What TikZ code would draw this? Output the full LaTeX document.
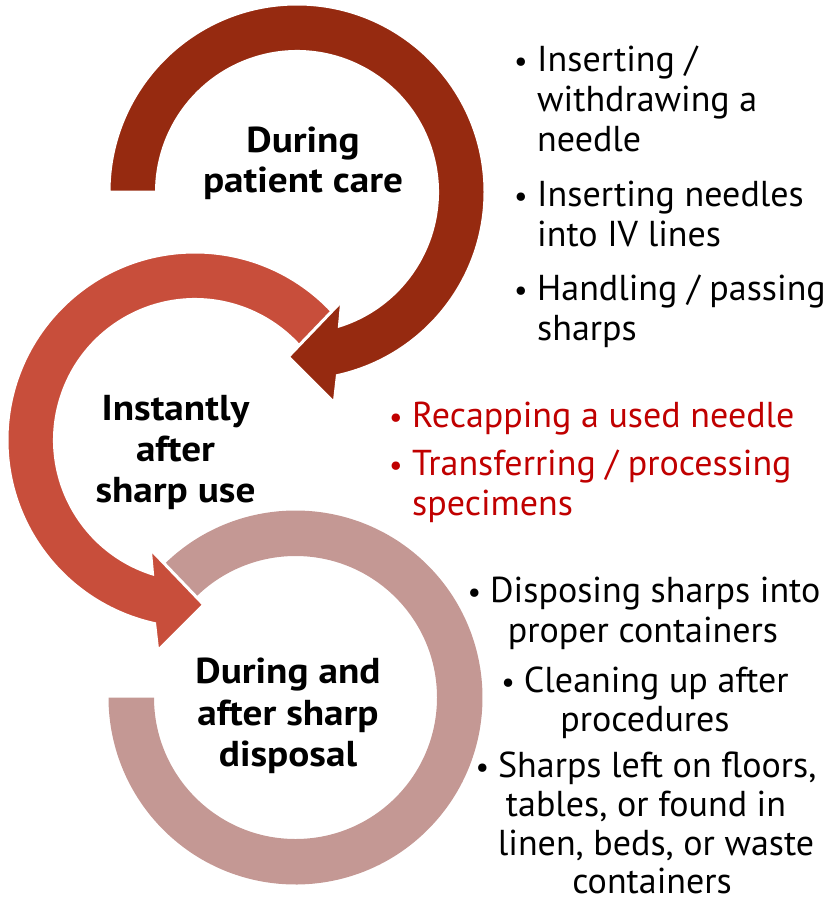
\documentclass[tikz,border=0pt]{standalone}
\usepackage{fontspec}
\setmainfont{PT Sans}
\newfontfamily\hdfont{PT Sans}[FakeStretch=1.09]
\usetikzlibrary{calc}
\definecolor{cA}{HTML}{962A10}
\definecolor{cB}{HTML}{C84E3B}
\definecolor{cC}{HTML}{C49894}
\definecolor{cR}{HTML}{C00000}
\newcommand{\bulsym}{{\fontsize{30}{30}\selectfont •}}
\begin{document}
\begin{tikzpicture}[x=1pt,y=1pt,
  tx/.style={inner sep=0pt, font=\fontsize{36}{40}\selectfont},
  hd/.style={inner sep=0pt, font=\fontsize{36}{40}\selectfont\hdfont\bfseries},
  bul/.style={inner sep=0pt, font=\fontsize{30}{40}\selectfont},
  arrowshape/.style={draw=white, line width=3pt, line join=miter}]
\path[use as bounding box] (0,0) rectangle (832,-904);
\coordinate (C1) at (297,-192);
\coordinate (C2) at (195,-440);
\coordinate (C3) at (295.5,-697.5);

% bottom ring (no head)
\fill[cC] ($(C3)+(137:187)$) arc[start angle=137, end angle=-180, radius=187]
  -- ($(C3)+(180:141.5)$) arc[start angle=-180, end angle=137, radius=141.5] -- cycle;

% middle arrow
\filldraw[fill=cB, arrowshape] ($(C2)+(42:188)$) arc[start angle=42, end angle=257.6, radius=188]
  -- ($(C2)+(-37.3,-210.7)$) -- ($(C2)+(8.7,-164.7)$) -- ($(C2)+(-44.7,-109)$)
  -- ($(C2)+(252.4:140.5)$) arc[start angle=252.4, end angle=42, radius=140.5] -- cycle;

% top arrow
\filldraw[fill=cA, arrowshape] ($(C1)+(180:188)$) arc[start angle=180, end angle=-77.6, radius=188]
  -- ($(C1)+(37.3,-210.7)$) -- ($(C1)+(-8.7,-164.7)$) -- ($(C1)+(44.7,-109)$)
  -- ($(C1)+(-72.4:140.5)$) arc[start angle=-72.4, end angle=180, radius=140.5] -- cycle;

% headings
\node[hd, anchor=base] (h1a) at (303,-153) {During};
\node[hd, anchor=base] (h1b) at (303,-193) {patient care};
\node[hd, anchor=base] (h2a) at (175.5,-420) {Instantly};
\node[hd, anchor=base] (h2b) at (175.5,-461) {after};
\node[hd, anchor=base] (h2c) at (175.5,-502) {sharp use};
\node[hd, anchor=base] (h3a) at (288,-683) {During and};
\node[hd, anchor=base] (h3b) at (288,-725) {after sharp};
\node[hd, anchor=base] (h3c) at (288,-766) {disposal};

% top list
\node[bul, anchor=base west] (b1) at (514,-72) {•};
\node[tx, anchor=base west] (t1a) at (537,-72) {Inserting /};
\node[tx, anchor=base west] (t1b) at (537,-112) {withdrawing a};
\node[tx, anchor=base west] (t1c) at (537,-152) {needle};
\node[bul, anchor=base west] (b2) at (514,-206) {•};
\node[tx, anchor=base west] (t2a) at (537,-206) {Inserting needles};
\node[tx, anchor=base west] (t2b) at (537,-246) {into IV lines};
\node[bul, anchor=base west] (b3) at (514,-300) {•};
\node[tx, anchor=base west] (t3a) at (537,-300) {Handling / passing};
\node[tx, anchor=base west] (t3b) at (537,-340) {sharps};

% red list
\node[bul, text=cR, anchor=base west] (b4) at (389,-427) {•};
\node[tx, text=cR, anchor=base west] (t4a) at (412,-427) {Recapping a used needle};
\node[bul, text=cR, anchor=base west] (b5) at (389,-475) {•};
\node[tx, text=cR, anchor=base west] (t5a) at (412,-475) {Transferring / processing};
\node[tx, text=cR, anchor=base west] (t5b) at (412,-515) {specimens};

% bottom list (centred)
\node[tx, anchor=base] (t6a) at (644,-602) {\bulsym\hspace{9pt}Disposing sharps into};
\node[tx, anchor=base] (t6b) at (643,-642) {proper containers};
\node[tx, anchor=base] (t7a) at (645,-692) {\bulsym\hspace{9pt}Cleaning up after};
\node[tx, anchor=base] (t7b) at (645,-731) {procedures};
\node[tx, anchor=base] (t8a) at (646,-777) {\bulsym\hspace{9pt}Sharps left on floors,};
\node[tx, anchor=base] (t8b) at (646,-816) {tables, or found in};
\node[tx, anchor=base] (t8c) at (656,-855) {linen, beds, or waste};
\node[tx, anchor=base] (t8d) at (652,-893) {containers};
\end{tikzpicture}
\end{document}
